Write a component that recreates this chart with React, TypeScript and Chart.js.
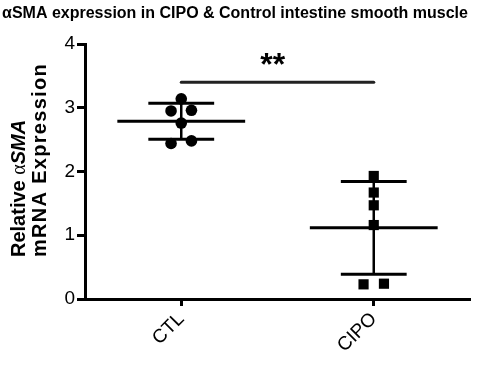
import React, { useEffect, useRef } from "react";
import { Chart, registerables } from "chart.js";

Chart.register(...registerables);

// ---------------- data ----------------
const CATEGORIES = ["CTL", "CIPO"];
const CTL_VALUES = [3.14, 2.96, 2.95, 2.76, 2.48, 2.44];
const CIPO_VALUES = [1.93, 1.67, 1.47, 1.16, 0.24, 0.23];
const Y_TICKS = [0, 1, 2, 3, 4];
const TITLE = "αSMA expression in CIPO & Control intestine smooth muscle";
const Y_TITLE_LINE1 = [
  { text: "Relative ", style: "bold" },
  { text: "α", style: "alpha" },
  { text: "SMA", style: "bolditalic" },
];
const Y_TITLE_LINE2 = [{ text: "mRNA Expression", style: "bold" }];
const SIG_LABEL = "**";
const SIG_LEVEL = 3.4;

// ---------------- helpers ----------------
const SANS = '"Liberation Sans", Arial, Helvetica, sans-serif';

function mean(a: number[]) {
  return a.reduce((s, v) => s + v, 0) / a.length;
}
function sd(a: number[]) {
  const m = mean(a);
  return Math.sqrt(a.reduce((s, v) => s + (v - m) * (v - m), 0) / (a.length - 1));
}
// spread near-identical values horizontally (like a column scatter)
function spread(values: number[], center: number, step: number, tol: number) {
  const idx = values.map((_, i) => i).sort((a, b) => values[a] - values[b]);
  const xs: number[] = new Array(values.length);
  let i = 0;
  while (i < idx.length) {
    let j = i;
    while (j + 1 < idx.length && values[idx[j + 1]] - values[idx[j]] < tol) j++;
    const n = j - i + 1;
    for (let k = 0; k < n; k++) xs[idx[i + k]] = center + (k - (n - 1) / 2) * 2 * step;
    i = j + 1;
  }
  return xs;
}

const GROUPS = [CTL_VALUES, CIPO_VALUES];

const errorBarPlugin = {
  id: "meanSd",
  beforeDatasetsDraw(chart: any) {
    const { ctx, scales } = chart;
    const x = scales.x;
    const y = scales.y;
    ctx.save();
    ctx.strokeStyle = "#000";
    ctx.lineCap = "butt";
    GROUPS.forEach((vals, c) => {
      const center = c + 0.5;
      const m = mean(vals);
      const s = sd(vals);
      const hl = (a: number, b: number, v: number) => {
        ctx.beginPath();
        ctx.moveTo(x.getPixelForValue(a), y.getPixelForValue(v));
        ctx.lineTo(x.getPixelForValue(b), y.getPixelForValue(v));
        ctx.stroke();
      };
      ctx.lineWidth = 3;
      hl(center - 0.332, center + 0.332, m);
      hl(center - 0.171, center + 0.171, m + s);
      hl(center - 0.171, center + 0.171, m - s);
      ctx.lineWidth = 2.5;
      ctx.beginPath();
      ctx.moveTo(x.getPixelForValue(center), y.getPixelForValue(m + s));
      ctx.lineTo(x.getPixelForValue(center), y.getPixelForValue(m - s));
      ctx.stroke();
    });
    ctx.restore();
  },
};

const sigPlugin = {
  id: "sig",
  afterDatasetsDraw(chart: any) {
    const { ctx, scales } = chart;
    const x = scales.x;
    const y = scales.y;
    const py = y.getPixelForValue(SIG_LEVEL);
    ctx.save();
    ctx.strokeStyle = "#222";
    ctx.lineWidth = 3;
    ctx.lineCap = "round";
    ctx.beginPath();
    ctx.moveTo(x.getPixelForValue(0.5), py);
    ctx.lineTo(x.getPixelForValue(1.5), py);
    ctx.stroke();
    ctx.fillStyle = "#000";
    ctx.font = `bold 32px ${SANS}`;
    ctx.textAlign = "center";
    ctx.textBaseline = "alphabetic";
    ctx.fillText(SIG_LABEL, x.getPixelForValue(0.975), py - 7);
    ctx.restore();
  },
};

const yTitlePlugin = {
  id: "yTitle",
  afterDraw(chart: any) {
    const { ctx, chartArea } = chart;
    const fontFor = (style: string) =>
      style === "bold"
        ? `bold 20px ${SANS}`
        : style === "bolditalic"
        ? `italic bold 20px ${SANS}`
        : `20px "Liberation Serif", "DejaVu Serif", serif`;
    const drawLine = (runs: any[], baseX: number, spacing: number) => {
      ctx.save();
      ctx.translate(baseX, chartArea.bottom - 42);
      ctx.rotate(-Math.PI / 2);
      ctx.fillStyle = "#000";
      ctx.textAlign = "left";
      ctx.textBaseline = "alphabetic";
      try {
        (ctx as any).letterSpacing = `${spacing}px`;
      } catch (e) {}
      let pos = 0;
      runs.forEach((r) => {
        ctx.font = fontFor(r.style);
        ctx.fillText(r.text, pos, 0);
        pos += ctx.measureText(r.text).width;
      });
      ctx.restore();
    };
    drawLine(Y_TITLE_LINE1, chartArea.left - 60, 0);
    drawLine(Y_TITLE_LINE2, chartArea.left - 39, 1.3);
  },
};

export default function App() {
  const ref = useRef<HTMLCanvasElement | null>(null);

  useEffect(() => {
    if (!ref.current) return;
    const datasets = GROUPS.map((vals, c) => {
      const xs = spread(vals, c + 0.5, 0.053, 0.1);
      return {
        label: CATEGORIES[c],
        data: vals.map((v, i) => ({ x: xs[i], y: v })),
        pointStyle: c === 0 ? "circle" : "rect",
        pointRadius: c === 0 ? 5.8 : 7.2,
        backgroundColor: "#000",
        borderColor: "#000",
        borderWidth: 0,
        showLine: false,
      };
    });

    const chart = new Chart(ref.current, {
      type: "scatter",
      data: { datasets },
      plugins: [errorBarPlugin, sigPlugin, yTitlePlugin],
      options: {
        animation: false,
        responsive: false,
        devicePixelRatio: 1,
        color: "#000",
        layout: { padding: { left: 0, right: 11, top: 0, bottom: 0 } },
        plugins: {
          legend: { display: false },
          tooltip: { enabled: false },
          title: {
            display: true,
            text: TITLE,
            color: "#000",
            font: { family: SANS, size: 16, weight: "bold", lineHeight: 1.2 },
            padding: { top: 4, bottom: 20.8 },
          },
        },
        scales: {
          x: {
            type: "linear",
            min: 0,
            max: CATEGORIES.length,
            afterBuildTicks: (scale: any) => {
              scale.ticks = CATEGORIES.map((_, i) => ({ value: i + 0.5 }));
            },
            afterFit: (scale: any) => {
              scale.height = 70;
            },
            grid: {
              drawOnChartArea: false,
              drawTicks: true,
              tickLength: 7,
              tickWidth: 3,
              tickColor: "#000",
            },
            border: { display: true, color: "#000", width: 3 },
            ticks: {
              autoSkip: false,
              minRotation: 45,
              maxRotation: 45,
              padding: 2,
              color: "#000",
              font: { family: SANS, size: 19 },
              callback: (v: any) => CATEGORIES[Math.floor(Number(v))] ?? "",
            },
          },
          y: {
            min: Y_TICKS[0],
            max: Y_TICKS[Y_TICKS.length - 1],
            afterBuildTicks: (scale: any) => {
              scale.ticks = Y_TICKS.map((v) => ({ value: v }));
            },
            afterFit: (scale: any) => {
              scale.width = 85;
            },
            grid: {
              drawOnChartArea: false,
              drawTicks: true,
              tickLength: 8,
              tickWidth: 3,
              tickColor: "#000",
            },
            border: { display: true, color: "#000", width: 3 },
            ticks: {
              padding: 2,
              color: "#000",
              font: { family: SANS, size: 19 },
              callback: (v: any) => String(v),
            },
          },
        },
      },
    } as any);
    return () => chart.destroy();
  }, []);

  return (
    <div style={{ position: "fixed", left: 0, top: 0, width: 481, height: 369, background: "#fff" }}>
      <canvas ref={ref} width={481} height={369} style={{ display: "block" }} />
    </div>
  );
}
